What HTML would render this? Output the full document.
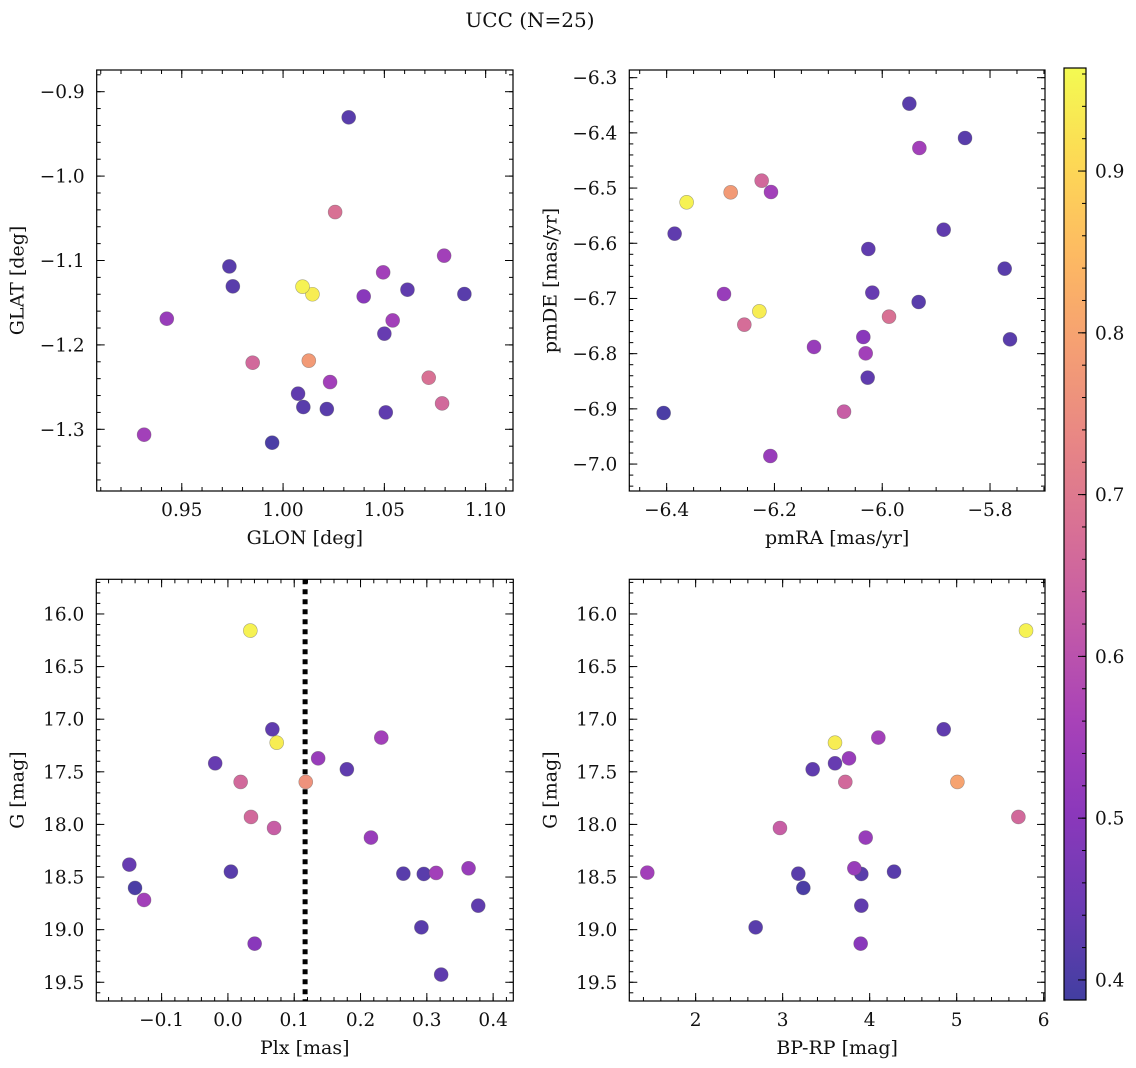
<!DOCTYPE html>
<html><head><meta charset="utf-8"><style>
html,body{margin:0;padding:0;background:#fff;}
svg{display:block;font-family:"DejaVu Serif","Liberation Serif",serif;}
</style></head><body>
<svg id="fig" width="1136" height="1068" viewBox="0 0 1136 1068" xmlns="http://www.w3.org/2000/svg">
<text x="530" y="27" font-size="20" text-anchor="middle" fill="#111">UCC (N=25)</text>
</svg>
<script>
// ---- data ----
const glonVals=[1.0324,1.0257,0.9735,0.9752,0.9426,1.0096,1.0145,1.0795,1.0494,1.0398,1.0614,1.0895,1.0541,1.050,0.985,1.0127,1.0232,1.0719,1.0785,1.0074,1.010,1.0216,1.0507,0.9314,0.9946];
const glatVals=[-0.9304,-1.0426,-1.107,-1.1306,-1.169,-1.131,-1.140,-1.0943,-1.114,-1.1425,-1.1346,-1.1397,-1.171,-1.1867,-1.2211,-1.2187,-1.244,-1.2389,-1.2693,-1.2578,-1.2736,-1.276,-1.280,-1.3064,-1.3159];
const glProbs=[0.42,0.68,0.42,0.42,0.53,0.95,0.94,0.55,0.55,0.50,0.43,0.42,0.55,0.44,0.66,0.78,0.55,0.68,0.66,0.43,0.42,0.42,0.43,0.55,0.40];

const pmraVals=[-5.9497,-5.8464,-5.9311,-6.2237,-6.2812,-6.2064,-6.3629,-6.3852,-5.886,-6.0258,-5.7728,-6.2936,-6.0184,-5.9324,-6.228,-6.2559,-5.9874,-6.0351,-5.7629,-6.1266,-6.0307,-6.027,-6.4056,-6.0709,-6.2076];
const pmdeVals=[-6.3471,-6.4093,-6.4274,-6.4866,-6.5077,-6.5071,-6.5258,-6.5826,-6.5754,-6.6104,-6.646,-6.6919,-6.6895,-6.7064,-6.7233,-6.7475,-6.733,-6.7698,-6.774,-6.7879,-6.7994,-6.8435,-6.9075,-6.9051,-6.9854];
const pmProbs=[0.42,0.42,0.55,0.66,0.78,0.55,0.95,0.43,0.43,0.43,0.42,0.53,0.44,0.42,0.94,0.67,0.68,0.50,0.42,0.53,0.55,0.43,0.40,0.63,0.53];

const plxVals=[0.0338,0.067,0.0736,-0.0192,0.2313,0.1361,0.1794,0.0192,0.1174,0.0348,0.0696,0.2157,-0.1487,0.0045,-0.1401,-0.1265,0.2646,0.2954,0.314,0.3629,0.3775,0.2918,0.0403,0.3216];
const gPlxVals=[16.158,17.096,17.223,17.419,17.175,17.372,17.476,17.596,17.596,17.929,18.034,18.125,18.382,18.449,18.604,18.718,18.468,18.471,18.461,18.417,18.772,18.978,19.133,19.427];
const plxProbs=[0.95,0.43,0.94,0.44,0.55,0.53,0.43,0.66,0.76,0.66,0.63,0.53,0.44,0.42,0.40,0.55,0.42,0.42,0.55,0.53,0.43,0.42,0.50,0.43];
const plxMedian=[0.1164];

const bprpVals=[5.797,4.851,3.6015,4.0996,3.7625,3.6015,3.345,3.720,5.008,5.709,2.969,3.954,1.4444,3.824,3.904,4.280,3.180,3.2375,3.904,2.6897,3.8966];
const gCmdVals=[16.158,17.096,17.223,17.175,17.372,17.419,17.476,17.596,17.596,17.929,18.034,18.125,18.458,18.417,18.471,18.449,18.468,18.604,18.772,18.978,19.133];
const cmdProbs=[0.95,0.43,0.94,0.55,0.53,0.44,0.43,0.66,0.80,0.66,0.63,0.53,0.55,0.53,0.42,0.42,0.42,0.40,0.43,0.42,0.50];

const cbarTicks=[0.4,0.5,0.6,0.7,0.8,0.9];

// ---- helpers ----
const NS="http://www.w3.org/2000/svg";
const svg=document.getElementById('fig');
const FS=18.5, LFS=19;
function mk(tag,attrs,parent){const e=document.createElementNS(NS,tag);for(const k in attrs)e.setAttribute(k,attrs[k]);(parent||svg).appendChild(e);return e;}
const plasma=[[13,8,135],[65,4,157],[106,0,168],[143,13,164],[177,42,144],[204,71,120],[225,100,98],[242,132,75],[252,166,54],[252,206,37],[240,249,33]];
const CMIN=0.3876,CMAX=0.9637,ALPHA=0.78;
function cmap(v){let t=(v-CMIN)/(CMAX-CMIN);t=Math.max(0,Math.min(1,t));const p=t*10,i=Math.min(9,Math.floor(p)),f=p-i;
 const c=plasma[i].map((a,j)=>a+(plasma[i+1][j]-a)*f).map(a=>Math.round(a*ALPHA+255*(1-ALPHA)));return `rgb(${c[0]},${c[1]},${c[2]})`;}
function fmt(v,d){const s=Math.abs(v).toFixed(d);return (v<-1e-9?'\u2212':'')+s;}

function panel(o){
 const {x0,x1,y0,y1,xmin,xmax,ymin,ymax,name}=o;
 const g=mk('g',{});
 
 
 const sx=v=>x0+(v-xmin)/(xmax-xmin)*(x1-x0);
 const sy=v=>y1-(v-ymin)/(ymax-ymin)*(y1-y0);
 const ticks=(lo,hi,step)=>{const a=[];for(let k=Math.ceil(lo/step-1e-6);k*step<=hi+1e-9;k++)a.push(+(k*step).toFixed(6));return a;};
 const tg=mk('g',{stroke:'#000','stroke-width':1},g);
 ticks(Math.min(xmin,xmax),Math.max(xmin,xmax),o.xminor).forEach(v=>{const X=sx(v);mk('line',{x1:X,x2:X,y1:y1,y2:y1-4},tg);mk('line',{x1:X,x2:X,y1:y0,y2:y0+4},tg);});
 ticks(Math.min(ymin,ymax),Math.max(ymin,ymax),o.yminor).forEach(v=>{const Y=sy(v);mk('line',{x1:x0,x2:x0+4,y1:Y,y2:Y},tg);mk('line',{x1:x1,x2:x1-4,y1:Y,y2:Y},tg);});
 ticks(Math.min(xmin,xmax),Math.max(xmin,xmax),o.xmajor).forEach(v=>{const X=sx(v);mk('line',{x1:X,x2:X,y1:y1,y2:y1-8},tg);mk('line',{x1:X,x2:X,y1:y0,y2:y0+8},tg);
   const t=mk('text',{x:X,y:y1+25,'font-size':FS,'text-anchor':'middle',fill:'#111'},g);t.textContent=fmt(v,o.xdec);
   
   });
 ticks(Math.min(ymin,ymax),Math.max(ymin,ymax),o.ymajor).forEach(v=>{const Y=sy(v);mk('line',{x1:x0,x2:x0+8,y1:Y,y2:Y},tg);mk('line',{x1:x1,x2:x1-8,y1:Y,y2:Y},tg);
   const t=mk('text',{x:x0-12,y:Y+6.5,'font-size':FS,'text-anchor':'end',fill:'#111'},g);t.textContent=fmt(v,o.ydec);
   
   });
 mk('rect',{x:x0,y:y0,width:x1-x0,height:y1-y0,fill:'none',stroke:'#000','stroke-width':1.2},g);
 const xl=mk('text',{x:(x0+x1)/2,y:y1+53,'font-size':LFS,'text-anchor':'middle',fill:'#111'},g);xl.textContent=o.xlabel;
 
 
 const yx=x0-73,yy=(y0+y1)/2;
 const yl=mk('text',{x:yx,y:yy,'font-size':LFS,'text-anchor':'middle',fill:'#111',transform:`rotate(-90 ${yx} ${yy})`},g);yl.textContent=o.ylabel;
 
 
 if(o.vline!==undefined){const X=sx(o.vline);const l=mk('line',{x1:X,x2:X,y1:y0,y2:y1,stroke:'#000','stroke-width':5,'stroke-dasharray':'5 5'},g);
   
   }
 const order=o.c.map((c,i)=>i).sort((a,b)=>o.c[a]-o.c[b]);
 order.forEach(i=>{const c=mk('circle',{cx:sx(o.xs[i]),cy:sy(o.ys[i]),r:7,fill:cmap(o.c[i]),stroke:'rgba(90,90,90,0.5)','stroke-width':0.6},g);
   
   });
}

panel({name:'glon-glat-panel',x0:96.7,x1:513,y0:70,y1:491,xmin:0.908,xmax:1.1135,ymin:-1.3731,ymax:-0.8743,xmajor:0.05,xminor:0.01,ymajor:0.1,yminor:0.02,xdec:2,ydec:1,xlabel:'GLON [deg]',ylabel:'GLAT [deg]',xs:glonVals,ys:glatVals,c:glProbs});
panel({name:'pm-panel',x0:629.3,x1:1045,y0:70,y1:491,xmin:-6.4693,xmax:-5.698,ymin:-7.0488,ymax:-6.2861,xmajor:0.2,xminor:0.05,ymajor:0.1,yminor:0.02,xdec:1,ydec:1,xlabel:'pmRA [mas/yr]',ylabel:'pmDE [mas/yr]',xs:pmraVals,ys:pmdeVals,c:pmProbs});
panel({name:'plx-g-panel',x0:96.3,x1:513.3,y0:579.3,y1:1001,xmin:-0.1985,xmax:0.4304,ymin:19.678,ymax:15.6706,xmajor:0.1,xminor:0.02,ymajor:0.5,yminor:0.1,xdec:1,ydec:1,xlabel:'Plx [mas]',ylabel:'G [mag]',xs:plxVals,ys:gPlxVals,c:plxProbs,vline:plxMedian[0]});
panel({name:'cmd-panel',x0:629.3,x1:1045,y0:579.3,y1:1001,xmin:1.2375,xmax:6.015,ymin:19.678,ymax:15.6706,xmajor:1,xminor:0.2,ymajor:0.5,yminor:0.1,xdec:0,ydec:1,xlabel:'BP-RP [mag]',ylabel:'G [mag]',xs:bprpVals,ys:gCmdVals,c:cmdProbs});

// colorbar
(function(){
 const x0=1064,x1=1086,y0=68,y1=1000;
 const g=mk('g',{});
 
 
 const defs=mk('defs',{},g);
 const lg=mk('linearGradient',{id:'cbg',x1:0,y1:1,x2:0,y2:0},defs);
 for(let k=0;k<=20;k++){const v=CMIN+(CMAX-CMIN)*k/20;mk('stop',{offset:(k/20),'stop-color':cmap(v)},lg);}
 mk('rect',{x:x0,y:y0,width:x1-x0,height:y1-y0,fill:'url(#cbg)',stroke:'#000','stroke-width':1.2},g);
 const sy=v=>y1-(v-CMIN)/(CMAX-CMIN)*(y1-y0);
 for(let v=0.40;v<=0.961;v+=0.02){const Y=sy(v);mk('line',{x1:x1,x2:x1-4,y1:Y,y2:Y,stroke:'#000'},g);}
 cbarTicks.forEach(v=>{const Y=sy(v);mk('line',{x1:x1,x2:x1-8,y1:Y,y2:Y,stroke:'#000'},g);
  const t=mk('text',{x:x1+9,y:Y+6.5,'font-size':FS,fill:'#111'},g);t.textContent=v.toFixed(1);
  
  });
})();
</script>
</body></html>
